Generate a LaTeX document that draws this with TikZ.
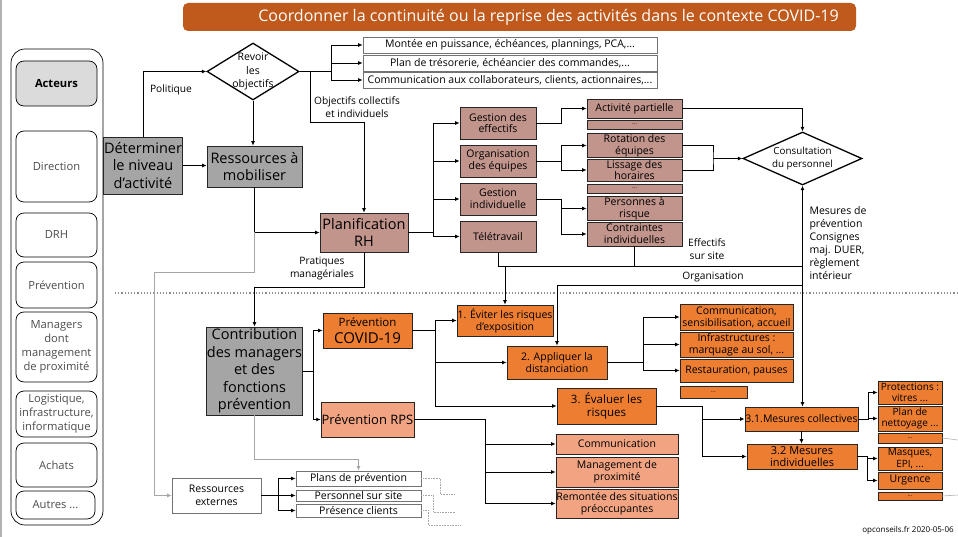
\documentclass[tikz,border=0pt]{standalone}
\usepackage{fontspec}
\setmainfont{Open Sans}
\usepackage{xcolor}
\usepackage{tikz}
\usetikzlibrary{shapes,arrows.meta,positioning}

\definecolor{titlebrown}{HTML}{C05A1C}
\definecolor{boxgrey}{HTML}{A5A5A5}
\definecolor{rhrose}{HTML}{C1948C}
\definecolor{covorange}{HTML}{ED7D31}
\definecolor{rpssalmon}{HTML}{F2A482}
\newcommand{\fsz}[2]{\fontsize{#1}{#2}\selectfont}

\begin{document}
\begin{tikzpicture}[x=1pt,y=-1pt,
      >={Latex[length=4.5pt,width=4pt]},
      sz/.style 2 args={minimum width=#1, minimum height=#2},
      box/.style={draw=black!85, line width=0.7pt, align=center, inner sep=0.5pt},
      greybox/.style={box, fill=boxgrey, font=\fsz{14.5}{17.5}},
      rhbox/.style={box, fill=rhrose, font=\fsz{10.5}{11.8}},
      covbox/.style={box, fill=covorange, font=\fsz{10.5}{11.8}},
      rpsbox/.style={box, fill=rpssalmon, font=\fsz{10.5}{11.8}},
      whitebox/.style={box, draw=black!55, fill=white, font=\fsz{10.5}{12}},
      actor/.style={draw=black, rounded corners=8pt, line width=0.7pt, align=center,
        text=black!70, font=\fsz{11.2}{14}, inner sep=1pt},
      choice/.style={diamond, draw=black, line width=1.3pt, inner sep=0pt},
      lbl/.style={align=center, font=\fsz{10.2}{12.5}},
      link/.style={->, line width=0.9pt},
      faint/.style={->, draw=black!35, line width=0.7pt},
      stub/.style={draw=black!35, line width=0.6pt, densely dotted}]
  \useasboundingbox (0,0) rectangle (958,537);
  \draw[black!30, line width=1.5pt] (0.75,0) -- (0.75,537);

  % title and actors
  \node[fill=titlebrown, rounded corners=5pt, sz={673}{28}, text=white,
    font=\fsz{16}{18}] (title) at (519.5,17)
    {\hspace*{58pt}Coordonner la continuité ou la reprise des activités dans le contexte COVID-19};
  \node[actor, rounded corners=14pt, sz={92}{476}] (actors) at (57,287) {};
  \node[actor, fill=black!14, text=black, font=\fsz{11.2}{14}\bfseries, sz={81}{45}] (acteurs) at (56.5,83.5) {Acteurs};
  \node[actor, sz={81}{71}] (direction) at (56.5,166.5) {Direction};
  \node[actor, sz={81}{44}] (drh) at (56.5,235) {DRH};
  \node[actor, sz={81}{46}] (prev) at (56.5,285) {Prévention};
  \node[actor, sz={81}{70}] (managers) at (56.5,347) {Managers\\dont\\management\\de proximité};
  \node[actor, sz={81}{46}] (logist) at (56.5,414) {Logistique,\\infrastructure,\\informatique};
  \node[actor, sz={81}{44}] (achats) at (56.5,465) {Achats};
  \node[actor, sz={79}{28}] (autres) at (55.5,505) {Autres ...};

  % level of activity
  \node[greybox, sz={76}{57}] (det) at (143,165.5) {Déterminer\\le niveau\\d’activité};
  \node[greybox, sz={95}{41}] (ress) at (254.5,166.5) {Ressources à\\mobiliser};
  \node[choice, sz={92}{57}, label={[align=center, font=\fsz{10.5}{13.5}]center:Revoir\\les\\objectifs}]
    (revoir) at (253,71.5) {};
  \node[whitebox, sz={294}{16}] (montee) at (510,45) {Montée en puissance, échéances, plannings, PCA,...};
  \node[whitebox, sz={294}{16}] (treso) at (510,63) {Plan de trésorerie, échéancier des commandes,...};
  \node[whitebox, sz={294}{16}] (commu) at (510,80) {Communication aux collaborateurs, clients, actionnaires,...};
  \node[lbl] (politique) at (171,90) {Politique};
  \node[lbl] (objectifs) at (357,107) {Objectifs collectifs\\et individuels};

  % HR planning
  \node[rhbox, font=\fsz{14.5}{17}, sz={88}{39}] (planif) at (364,232.5) {Planification\\RH};
  \node[rhbox, sz={76}{32}] (gesteff) at (498,123) {Gestion des\\effectifs};
  \node[rhbox, sz={76}{32}] (orgeq) at (498,161) {Organisation\\des équipes};
  \node[rhbox, sz={76}{32}] (gestind) at (498,199) {Gestion\\individuelle};
  \node[rhbox, sz={76}{31}] (tele) at (498,236.5) {Télétravail};
  \node[rhbox, sz={95}{19}] (activ) at (634.5,108.5) {Activité partielle};
  \node[rhbox, font=\fsz{6}{6}, sz={95}{9}] (dotsa) at (634.5,124.5) {...};
  \node[rhbox, sz={95}{23}] (rotation) at (634.5,145.5) {Rotation des\\équipes};
  \node[rhbox, sz={95}{22}] (lissage) at (634.5,170) {Lissage des\\horaires};
  \node[rhbox, font=\fsz{6}{6}, sz={95}{9}] (dotsb) at (634.5,188.5) {...};
  \node[rhbox, sz={95}{23}] (personnes) at (634.5,208.5) {Personnes à\\risque};
  \node[rhbox, sz={95}{24}] (contraintes) at (634.5,234) {Contraintes\\individuelles};
  \node[choice, sz={119}{53}, label={[align=center, font=\fsz{9.8}{12.5}]center:Consultation\\du personnel}]
    (consult) at (802.5,158.5) {};
  \node[lbl] (effectifs) at (707,249) {Effectifs\\sur site};
  \node[lbl] (organisation) at (713,277) {Organisation};
  \node[lbl, align=left, anchor=north west, font=\fsz{10.5}{13}] (mesures) at (806,203)
    {Mesures de\\prévention\\Consignes\\maj. DUER,\\règlement\\intérieur};
  \node[lbl] (pratiques) at (322,268.5) {Pratiques\\managériales};

  % prevention
  \node[greybox, sz={95}{88}] (contrib) at (254.5,371) {Contribution\\des managers\\et des\\fonctions\\prévention};
  \node[covbox, font=\fsz{15}{17}, sz={89}{35}] (covid) at (367.5,330.5) {{\fsz{11.5}{13}Prévention}\\COVID-19};
  \node[rpsbox, font=\fsz{13}{15}, sz={89}{35}] (rps) at (367.5,419.5) {Prévention RPS};
  \node[covbox, sz={94}{31}] (eviter) at (505,320.5) {1. Éviter les risques\\d’exposition};
  \node[covbox, sz={100}{33}] (appliquer) at (557,362.5) {2. Appliquer la\\distanciation};
  \node[covbox, font=\fsz{11.5}{13.5}, sz={99}{36}] (evaluer) at (606.5,406) {3. Évaluer les\\risques};
  \node[covbox, sz={113}{26}] (comsens) at (736.5,317) {Communication,\\sensibilisation, accueil};
  \node[covbox, sz={113}{25}] (infra) at (736.5,344.5) {Infrastructures :\\marquage au sol, ...};
  \node[covbox, sz={113}{23}] (resto) at (736.5,370.5) {Restauration, pauses};
  \node[covbox, font=\fsz{6}{6}, sz={67}{12}] (dotsc) at (713.5,392) {...};
  \node[covbox, font=\fsz{10.5}{12}, sz={111}{24}] (mescoll) at (801.5,419) {3.1.Mesures collectives};
  \node[covbox, font=\fsz{11}{12.5}, sz={110}{25}] (mesind) at (802,456.5) {3.2 Mesures\\individuelles};
  \node[covbox, font=\fsz{10}{11.5}, sz={64}{23}] (protec) at (910,392.5) {Protections :\\vitres ...};
  \node[covbox, font=\fsz{10}{11.5}, sz={64}{25}] (nettoy) at (910,418.5) {Plan de\\nettoyage ...};
  \node[covbox, font=\fsz{6}{6}, sz={64}{10}] (dotsd) at (910,438) {...};
  \node[covbox, font=\fsz{10}{11.5}, sz={64}{23}] (masques) at (910,458.5) {Masques,\\EPI, ...};
  \node[covbox, sz={64}{17}] (urgence) at (910,480.5) {Urgence};
  \node[covbox, font=\fsz{6}{6}, sz={64}{8}] (dotse) at (910,496) {...};
  \node[rpsbox, sz={122}{20}] (rpscom) at (617,444) {Communication};
  \node[rpsbox, sz={122}{30}] (rpsman) at (617,472) {Management de\\proximité};
  \node[rpsbox, sz={122}{29}] (rpsrem) at (617,503.5) {Remontée des situations\\préoccupantes};
  \node[whitebox, font=\fsz{10.5}{13}, sz={89}{35}] (resext) at (216.5,495.5) {Ressources\\externes};
  \node[whitebox, sz={125}{15}] (plansprev) at (358.5,478.5) {Plans de prévention};
  \node[whitebox, sz={125}{11}] (perssite) at (358.5,495.5) {Personnel sur site};
  \node[whitebox, sz={125}{13}] (prescli) at (358.5,510.5) {Présence clients};
  \node[font=\fsz{8}{9}] (source) at (908,530) {opconseils.fr 2020-05-06};

  \draw[dotted, black!45, line width=1.2pt] (115,293) -- (958,293);

  % connectors, top half
  \draw[link] (det.north) |- (revoir.west);
  \draw[link] (det.east) -- (det.east -| ress.west);
  \draw[link] (revoir.south) -- (revoir.south |- ress.north);
  \draw[link] (revoir.east) -- ++(32,0) coordinate (rb) |- (montee.west);
  \draw[link] (rb) |- (treso.west);
  \draw[link] (rb) |- (commu.west);
  \coordinate (obj) at (310,122);
  \draw[link] (revoir.east -| obj) -- (obj) -| (planif.north);
  \draw[link] (ress.south) |- (planif.west);
  \coordinate (gl) at (154,272);
  \draw[faint] (ress.south |- planif.west) |- (gl) |- (resext.west);
  \draw[link] (planif.south) -- ++(0,35.5) -| (contrib.north);
  \draw[link] (planif.east) -- ++(25,0) coordinate (pb) |- (gesteff.west);
  \draw[link] (pb) |- (orgeq.west);
  \draw[link] (pb) |- (gestind.west);
  \draw[link] (pb) |- (tele.west);
  \draw[link] (gesteff.east) -- ++(25,0) |- (activ.west);
  \draw[link] (orgeq.east) -- ++(25,0) coordinate (ob) |- (rotation.west);
  \draw[link] (ob) |- (lissage.west);
  \draw[link] (gestind.east) -- ++(25,0) coordinate (gb) |- (personnes.west);
  \draw[link] (gb) |- (contraintes.west);
  \draw[link] (activ.east) -| (consult.north);
  \coordinate (jn) at (713,158.5);
  \draw[line width=0.9pt] (rotation.east) -| (jn) |- (lissage.east);
  \draw[link] (jn) -- (consult.west);
  \coordinate (eff) at (802.5,266);
  \coordinate (org) at (802.5,285);
  \draw[line width=0.9pt] (tele.south) |- (eff);
  \draw[line width=0.9pt] (contraintes.south) -- (contraintes.south |- eff);
  \draw[link] (eviter.north |- eff) -- (eviter.north);
  \draw[link] (org) -| (appliquer.north);
  \draw[<->, line width=0.9pt] (consult.south) -- (consult.south |- mescoll.north);

  % connectors, bottom half
  \draw[link] (contrib.east) -- ++(11,0) coordinate (cb) |- (covid.west);
  \draw[link] (cb) |- (rps.west);
  \draw[link] (covid.east) -- ++(23,0) coordinate (vb) |- (eviter.west);
  \draw[link] (vb) |- (appliquer.west);
  \draw[link] (vb) |- (evaluer.west);
  \draw[link] (appliquer.east) -- ++(36,0) coordinate (ab) |- (comsens.west);
  \draw[link] (ab) |- (infra.west);
  \draw[link] (ab) |- (resto.west);
  \draw[link] (evaluer.east) -- ++(46,0) coordinate (eb) |- (mescoll.west);
  \draw[link] (eb) |- (mesind.west);
  \draw[link] (mescoll.south) -- (mescoll.south |- mesind.north);
  \draw[link] (mescoll.east) -- ++(10,0) coordinate (mb) |- (protec.west);
  \draw[link] (mb) |- (nettoy.west);
  \draw[link] (mesind.east) -- ++(10,0) coordinate (ib) |- (masques.west);
  \draw[link] (ib) |- (urgence.west);
  \draw[link] (rps.east) -- ++(71,0) coordinate (sb) |- (rpscom.west);
  \draw[link] (sb) |- (rpsman.west);
  \draw[link] (sb) |- (rpsrem.west);
  \draw[link] (resext.east) -- ++(17,0) coordinate (xb) |- (plansprev.west);
  \draw[link] (xb) |- (perssite.west);
  \draw[link] (xb) |- (prescli.west);
  \draw[faint] (contrib.south) -- ++(0,44) -| (plansprev.north);

  % loose ends
  \coordinate (enda) at (455,494);
  \coordinate (endb) at (455,512);
  \coordinate (endc) at (460,525);
  \coordinate (endd) at (958,440);
  \coordinate (ende) at (958,495);
  \draw[stub] (plansprev.east) -- ++(19,0) |- (enda);
  \draw[stub] (perssite.east) -- ++(12,0) |- (endb);
  \draw[stub] (prescli.east) -- ++(7,0) |- (endc);
  \draw[draw=black!30, line width=0.6pt] (dotsd.east) -- (endd);
  \draw[draw=black!30, line width=0.6pt] (dotse.east) -- (ende);
\end{tikzpicture}
\end{document}
